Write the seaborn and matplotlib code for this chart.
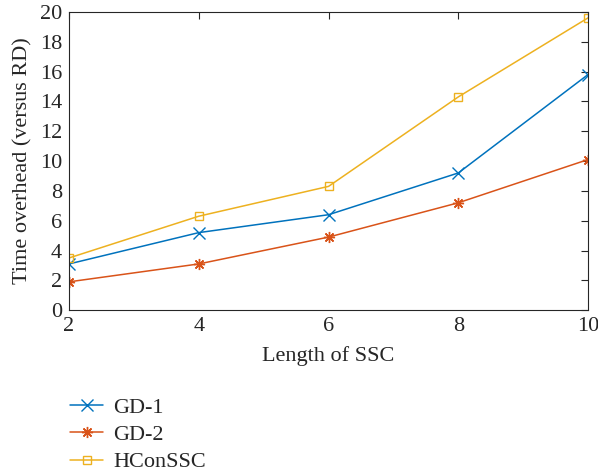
import matplotlib
matplotlib.use("Agg")
import matplotlib.pyplot as plt
import seaborn as sns
import pandas as pd

x_vals = [2, 4, 6, 8, 10]
gd1 = [3.1, 5.2, 6.4, 9.2, 15.8]
gd2 = [1.9, 3.1, 4.9, 7.2, 10.1]
hconssc = [3.5, 6.3, 8.3, 14.3, 19.6]
series_names = ["GD-1", "GD-2", "HConSSC"]
colors = ["#0072BD", "#D95319", "#EDB120"]
markers = ["x", (8, 2, 0), "s"]

sns.set_style("white")
plt.rcParams["font.family"] = ["Liberation Serif", "DejaVu Serif"]

fig = plt.figure(figsize=(5.98, 4.75), dpi=100)
ax = fig.add_axes([0.1154, 0.347, 0.868, 0.628])

for name, vals, c, m in zip(series_names, [gd1, gd2, hconssc], colors, markers):
    df = pd.DataFrame({"x": x_vals, "y": vals})
    sns.lineplot(data=df, x="x", y="y", ax=ax, color=c, marker=m, markersize=8 if m != "s" else 6,
                 markerfacecolor="none" if m == "s" else c, markeredgecolor=c,
                 markeredgewidth=1.0, linewidth=1.1, label=name)

ax.set_xlim(2, 10)
ax.set_ylim(0, 20)
ax.set_xticks([2, 4, 6, 8, 10])
ax.set_yticks(range(0, 21, 2))
ax.tick_params(direction="in", length=5, width=0.8, top=True, right=True,
               labelsize=16, colors="#262626", pad=5)
for s in ax.spines.values():
    s.set_visible(True)
    s.set_color("#262626")
    s.set_linewidth(0.8)
ax.set_xlabel("Length of SSC", fontsize=16, color="#262626", labelpad=7)
ax.set_ylabel("Time overhead (versus RD)", fontsize=16, color="#262626", labelpad=5)

handles, labels = ax.get_legend_handles_labels()
ax.legend_.remove()
fig.legend(handles, labels, loc="upper left", bbox_to_anchor=(0.102, 0.182),
           frameon=False, fontsize=16, handlelength=1.5, labelspacing=0.3,
           handletextpad=0.45, borderaxespad=0)

fig.savefig("out.png", dpi=100)
